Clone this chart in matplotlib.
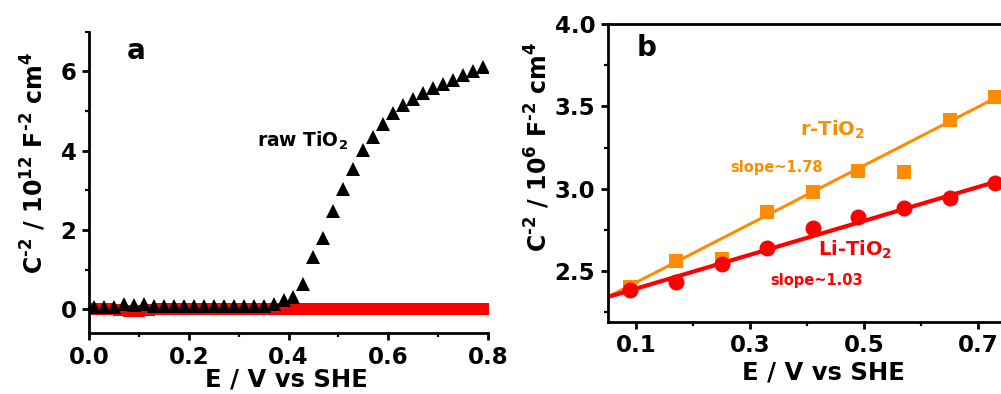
import numpy as np
import matplotlib
matplotlib.use("Agg")
from matplotlib import pyplot as plt
from matplotlib.ticker import MultipleLocator, FormatStrFormatter

plt.rcParams['font.family'] = ['DejaVu Sans']
plt.rcParams['font.weight'] = 'bold'
plt.rcParams['mathtext.fontset'] = 'dejavusans'
plt.rcParams['mathtext.default'] = 'bf'
plt.rcParams['axes.unicode_minus'] = False

# Mott-Schottky, raw TiO2 (panel a)
raw_E = [0.01, 0.03, 0.05, 0.07, 0.09, 0.11, 0.13, 0.15, 0.17, 0.19,
         0.21, 0.23, 0.25, 0.27, 0.29, 0.31, 0.33, 0.35, 0.37, 0.39,
         0.41, 0.43, 0.45, 0.47, 0.49, 0.51, 0.53, 0.55, 0.57, 0.59,
         0.61, 0.63, 0.65, 0.67, 0.69, 0.71, 0.73, 0.75, 0.77, 0.79]
raw_C2 = [0.06, 0.06, 0.06, 0.14, 0.11, 0.12, 0.08, 0.08, 0.08, 0.08,
          0.08, 0.08, 0.08, 0.08, 0.08, 0.08, 0.08, 0.08, 0.12, 0.23,
          0.31, 0.63, 1.32, 1.80, 2.47, 3.04, 3.54, 4.01, 4.35, 4.66,
          4.95, 5.14, 5.29, 5.46, 5.58, 5.67, 5.79, 5.92, 6.01, 6.12]

# treated sample, flat near zero on the 10^12 scale
flat_E = [0.00, 0.02, 0.04, 0.06, 0.08, 0.10, 0.12, 0.14, 0.16, 0.18,
          0.20, 0.22, 0.24, 0.26, 0.28, 0.30, 0.32, 0.34, 0.36, 0.38,
          0.40, 0.42, 0.44, 0.46, 0.48, 0.50, 0.52, 0.54, 0.56, 0.58,
          0.60, 0.62, 0.64, 0.66, 0.68, 0.70, 0.72, 0.74, 0.76, 0.78, 0.80]
flat_C2 = [0.0, 0.0, 0.0, -0.03, -0.05, -0.05, -0.03, 0.0, 0.0, 0.0,
           0.0, 0.0, 0.0, 0.0, 0.0, 0.0, 0.0, 0.0, 0.0, 0.0,
           0.0, 0.0, 0.0, 0.0, 0.0, 0.0, 0.0, 0.0, 0.0, 0.0,
           0.0, 0.0, 0.0, 0.0, 0.0, 0.0, 0.0, 0.0, 0.0, 0.0, 0.0]

# panel b, 10^6 scale
b_E = [0.09, 0.17, 0.25, 0.33, 0.41, 0.49, 0.57, 0.65, 0.73]
r_C2 = [2.40, 2.56, 2.57, 2.86, 2.98, 3.11, 3.10, 3.42, 3.56]
li_C2 = [2.38, 2.43, 2.54, 2.64, 2.76, 2.83, 2.88, 2.94, 3.035]

# linear fits: slope and value at E = 0.05
r_slope, r_start = 1.78, 2.34
li_slope, li_start = 1.03, 2.34

orange = '#ff8c00'
red = '#ff0000'

fig = plt.figure(figsize=(10.01, 3.94), dpi=100)
W, H = 1001, 394
ax_a = fig.add_axes([89 / W, (H - 333) / H, (488 - 89) / W, (333 - 31.7) / H])
ax_b = fig.add_axes([607.7 / W, (H - 321.7) / H, (1006.5 - 607.7) / W, (321.7 - 24.3) / H])

for ax in (ax_a, ax_b):
    for s in ax.spines.values():
        s.set_linewidth(2.0)
    ax.tick_params(which='major', direction='out', length=5, width=2, labelsize=16.5, pad=4)
    ax.tick_params(which='minor', direction='out', length=3, width=1.6)

# hyphen-style superscript sign
ylab_a = 'C$^{\u20102}$ / 10$^{12}$ F$^{\u20102}$ cm$^{4}$'
ylab_b = 'C$^{\u20102}$ / 10$^{6}$ F$^{\u20102}$ cm$^{4}$'

# panel a
ax_a.plot(flat_E, flat_C2, 's', color=red, ms=9, mew=0, zorder=2)
ax_a.plot(raw_E, raw_C2, '^', color='black', ms=10.5, mew=0, zorder=3)
ax_a.set_xlim(0, 0.8)
ax_a.set_ylim(-0.6, 7.0)
ax_a.xaxis.set_major_locator(MultipleLocator(0.2))
ax_a.xaxis.set_minor_locator(MultipleLocator(0.1))
ax_a.yaxis.set_major_locator(MultipleLocator(2))
ax_a.yaxis.set_minor_locator(MultipleLocator(1))
ax_a.xaxis.set_major_formatter(FormatStrFormatter('%.1f'))
ax_a.spines['top'].set_visible(False)
ax_a.spines['right'].set_visible(False)
ax_a.set_xlabel('E / V vs SHE', fontsize=17.5, fontweight='bold', va='top')
ax_a.xaxis.set_label_coords(0.496, -0.113)
ax_a.set_ylabel(ylab_a, fontsize=17, fontweight='bold')
ax_a.yaxis.set_label_coords(-0.103, 0.565)
ax_a.text(0.095, 0.937, 'a', transform=ax_a.transAxes, fontsize=20, fontweight='bold', va='center')
ax_a.text(0.337, 4.11, r'raw TiO$_2$', fontsize=13.5, fontweight='bold')

# panel b
xs = np.array([0.05, 0.75])
ax_b.plot(xs, r_start + r_slope * (xs - 0.05), '-', color=orange, lw=2.2, zorder=2)
ax_b.plot(xs, li_start + li_slope * (xs - 0.05), '-', color=red, lw=3, zorder=2)
ax_b.plot(b_E, r_C2, 's', color=orange, ms=10.5, mew=0, zorder=3)
ax_b.plot(b_E, li_C2, 'o', color=red, ms=11.5, mew=0, zorder=4)
ax_b.set_xlim(0.05, 0.75)
ax_b.set_ylim(2.19, 4.0)
ax_b.set_xticks([0.1, 0.3, 0.5, 0.7])
ax_b.xaxis.set_minor_locator(MultipleLocator(0.1))
ax_b.yaxis.set_major_locator(MultipleLocator(0.5))
ax_b.yaxis.set_minor_locator(MultipleLocator(0.25))
ax_b.xaxis.set_major_formatter(FormatStrFormatter('%.1f'))
ax_b.yaxis.set_major_formatter(FormatStrFormatter('%.1f'))
ax_b.set_xlabel('E / V vs SHE', fontsize=17.5, fontweight='bold', va='top')
ax_b.xaxis.set_label_coords(0.542, -0.129)
ax_b.set_ylabel(ylab_b, fontsize=17, fontweight='bold')
ax_b.yaxis.set_label_coords(-0.14, 0.587)
ax_b.text(0.073, 0.92, 'b', transform=ax_b.transAxes, fontsize=20, fontweight='bold', va='center')
ax_b.text(0.388, 3.32, r'r-TiO$_2$', fontsize=14, fontweight='bold', color=orange)
ax_b.text(0.265, 3.10, 'slope~1.78', fontsize=10.5, fontweight='bold', color=orange)
ax_b.text(0.419, 2.59, r'Li-TiO$_2$', fontsize=14, fontweight='bold', color=red)
ax_b.text(0.335, 2.415, 'slope~1.03', fontsize=10.5, fontweight='bold', color=red)

fig.savefig('out.png', dpi=100)
